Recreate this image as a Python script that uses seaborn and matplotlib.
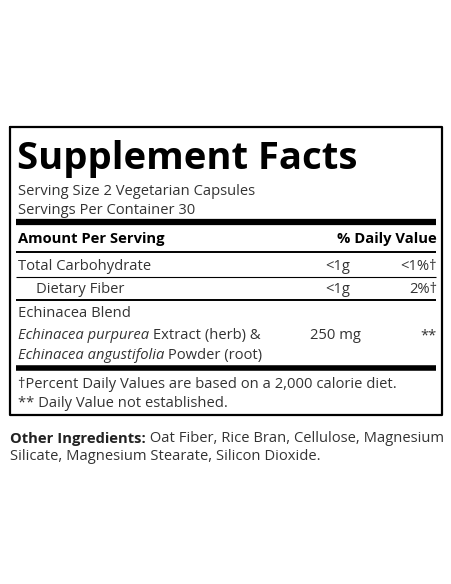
import matplotlib
matplotlib.use("Agg")
import matplotlib.pyplot as plt
import seaborn as sns

sns.set_theme(style="white")
plt.rcParams["font.family"] = ["Open Sans", "DejaVu Sans"]

title = "Supplement Facts"
serving_lines = ["Serving Size 2 Vegetarian Capsules", "Servings Per Container 30"]
header = ["Amount Per Serving", "% Daily Value"]
nutrients = ["Total Carbohydrate", "Dietary Fiber"]
amounts = ["<1g", "<1g"]
daily_values = ["<1%\u2020", "2%\u2020"]
blend_name = "Echinacea Blend"
blend_parts = [("Echinacea purpurea", " Extract (herb) &"),
               ("Echinacea angustifolia", " Powder (root)")]
blend_amount = "250 mg"
blend_dv = "**"
footnotes = ["\u2020Percent Daily Values are based on a 2,000 calorie diet.",
             "** Daily Value not established."]
other_label = "Other Ingredients:"
other_lines = [" Oat Fiber, Rice Bran, Cellulose, Magnesium",
               "Silicate, Magnesium Stearate, Silicon Dioxide."]

W, H = 452, 584
fig = plt.figure(figsize=(W / 100, H / 100), dpi=100)
ax = fig.add_axes([0, 0, 1, 1])
ax.set_xlim(0, W)
ax.set_ylim(H, 0)
ax.axis("off")
fig.canvas.draw()
rend = fig.canvas.get_renderer()
col = "#333333"
fs = 10.6


def put(x, y, s, **kw):
    kw.setdefault("fontsize", fs)
    kw.setdefault("color", col)
    kw.setdefault("va", "center")
    return ax.text(x, y + 1.5, s, **kw)


def right_x(t):
    bb = t.get_window_extent(rend)
    return ax.transData.inverted().transform((bb.x1, bb.y0))[0]


def hline(y, lw, x0=16, x1=436):
    ax.plot([x0, x1], [y, y], color="black", lw=lw, solid_capstyle="butt")


# box
ax.plot([10, 442, 442, 10, 10], [127, 127, 415, 415, 127], color="black", lw=1.6)

put(17, 157, title, fontsize=27.5, weight="bold", color="black")
for i, s in enumerate(serving_lines):
    put(18, 190 + i * 19, s)
hline(222, 4.5)
put(18, 238, header[0], weight="bold", color="black")
put(437, 238, header[1], weight="bold", color="black", ha="right")
hline(252, 1.4)

rows_y = [265, 288]
for i, (n, a, d) in enumerate(zip(nutrients, amounts, daily_values)):
    put(18 if i == 0 else 36, rows_y[i], n)
    put(350, rows_y[i], a, ha="right")
    put(437, rows_y[i], d, ha="right")
hline(277, 0.8)
hline(300, 1.4)

put(18, 312, blend_name)
for i, (it, rest) in enumerate(blend_parts):
    y = 334 + i * 20
    t = put(18, y, it, style="italic")
    put(right_x(t), y, rest)
put(310, 334, blend_amount)
put(437, 334, blend_dv, ha="right")
hline(368, 4.0)

for i, s in enumerate(footnotes):
    put(18, 383 + i * 19, s)

t = put(10, 437, other_label, weight="bold", color="#222222")
put(right_x(t), 437, other_lines[0])
put(10, 455, other_lines[1])

fig.savefig("out.png", dpi=100, facecolor="white")
